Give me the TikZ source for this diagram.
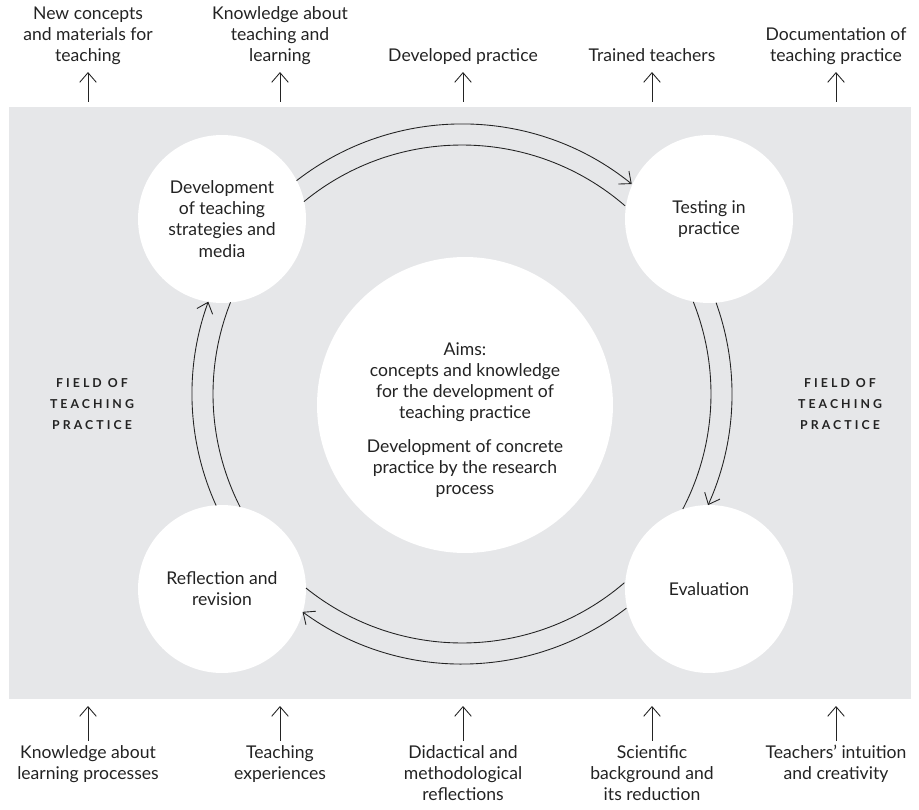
\documentclass[tikz,border=0pt]{standalone}
\usepackage{fontspec}
\setmainfont{Lato}
\newfontfamily\spacedfont[LetterSpace=25]{Lato}
\usetikzlibrary{arrows.meta,calc}
\definecolor{fieldgray}{RGB}{230,231,233}
\definecolor{inkgray}{RGB}{35,35,35}

\begin{document}
\begin{tikzpicture}[x=0.02cm, y=0.02cm,
  every node/.style={text=inkgray, font=\fontsize{10}{12}\selectfont},
  stage/.style={circle, fill=white, minimum size=3.36cm, inner sep=0pt, align=center},
  aims/.style={circle, fill=white, minimum size=5.92cm, inner sep=0pt},
  outcome/.style={align=center, anchor=south, inner sep=0pt, execute at end node=\strut},
  source/.style={align=center, anchor=north, inner sep=0pt, execute at begin node=\strut},
  fieldlabel/.style={align=center, font=\spacedfont\bfseries\fontsize{7}{11.7}\selectfont},
  flow/.style={draw=inkgray, line width=0.5pt},
  ioarrow/.style={draw=inkgray, line width=0.5pt, -{Straight Barb[length=5.5pt,width=9.5pt]}}]
\useasboundingbox (0,0) rectangle (919,809);

%%% the field of teaching practice
\fill[fieldgray] (9,110) rectangle (911,702);
\coordinate (fieldtop) at (0,707);
\coordinate (fieldbottom) at (0,103);
\coordinate (hub) at (462,415);

%%% the four steps of the cycle and the aims in the middle
\node[aims] (aims) at (465,404) {};
\node[align=center] (aimstext) at ($(aims.center)+(0,-15)$) {Aims:\\concepts and knowledge\\for the development of\\teaching practice\\[7pt]Development of concrete\\practice by the research\\process};
\node[stage] (develop) at (222,590) {Development\\of teaching\\strategies and\\media};
\node[stage] (testing) at (709,590) {Testing in\\practice};
\node[stage] (evaluate) at (709,220) {Evaluation};
\node[stage] (reflect) at (222,220) {Reflection and\\revision};

\node[fieldlabel] (fieldleft) at (92,405) {FIELD OF\\TEACHING\\PRACTICE};
\node[fieldlabel] (fieldright) at (840,405) {FIELD OF\\TEACHING\\PRACTICE};

%%% double arcs between the steps, outer one carries the arrow
\draw[flow, -{Straight Barb[length=5.5pt,width=9.5pt]}] ($(hub)+(127.8:270)$) arc[start angle=127.8, end angle=51.05, radius=270];
\draw[flow] ($(hub)+(129.4:249)$) arc[start angle=129.4, end angle=49.1, radius=249];
\draw[flow, -{Straight Barb[length=5.5pt,width=9.5pt]}] ($(hub)+(19.75:270)$) arc[start angle=19.75, end angle=-24.3, radius=270];
\draw[flow] ($(hub)+(21.7:249)$) arc[start angle=21.7, end angle=-27.5, radius=249];
\draw[flow, -{Straight Barb[length=5.5pt,width=9.5pt]}] ($(hub)+(-52.5:270)$) arc[start angle=-52.5, end angle=-126.2, radius=270];
\draw[flow] ($(hub)+(-49.3:249)$) arc[start angle=-49.3, end angle=-128.8, radius=249];
\draw[flow, -{Straight Barb[length=5.5pt,width=9.5pt]}] ($(hub)+(204.4:270)$) arc[start angle=204.4, end angle=160.0, radius=270];
\draw[flow] ($(hub)+(207.0:249)$) arc[start angle=207.0, end angle=158.4, radius=249];

%%% results coming out of the field
\node[outcome] (out1) at (88,741) {New concepts\\and materials for\\teaching};
\node[outcome] (out2) at (280,741) {Knowledge about\\teaching and\\learning};
\node[outcome] (out3) at (463,741) {Developed practice};
\node[outcome] (out4) at (652,741) {Trained teachers};
\node[outcome] (out5) at (836,741) {Documentation of\\teaching practice};
\draw[ioarrow, shorten >=2.3pt] (out1 |- fieldtop) -- (out1.south);
\draw[ioarrow, shorten >=2.3pt] (out2 |- fieldtop) -- (out2.south);
\draw[ioarrow, shorten >=2.3pt] (out3 |- fieldtop) -- (out3.south);
\draw[ioarrow, shorten >=2.3pt] (out4 |- fieldtop) -- (out4.south);
\draw[ioarrow, shorten >=2.3pt] (out5 |- fieldtop) -- (out5.south);

%%% what goes into the field
\node[source] (in1) at (88,64) {Knowledge about\\learning processes};
\node[source] (in2) at (280,64) {Teaching\\experiences};
\node[source] (in3) at (463,64) {Didactical and\\methodological\\reflections};
\node[source] (in4) at (652,64) {Scientific\\background and\\its reduction};
\node[source] (in5) at (836,64) {Teachers' intuition\\and creativity};
\draw[ioarrow, shorten <=2.3pt] (in1.north) -- (in1 |- fieldbottom);
\draw[ioarrow, shorten <=2.3pt] (in2.north) -- (in2 |- fieldbottom);
\draw[ioarrow, shorten <=2.3pt] (in3.north) -- (in3 |- fieldbottom);
\draw[ioarrow, shorten <=2.3pt] (in4.north) -- (in4 |- fieldbottom);
\draw[ioarrow, shorten <=2.3pt] (in5.north) -- (in5 |- fieldbottom);
\end{tikzpicture}
\end{document}
